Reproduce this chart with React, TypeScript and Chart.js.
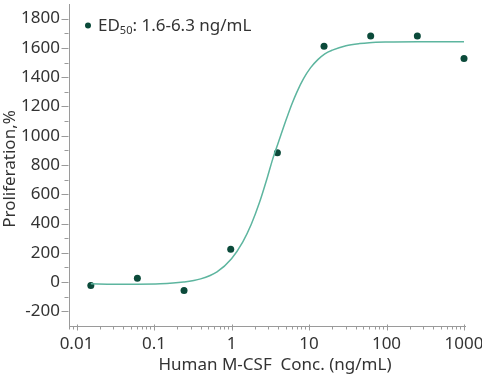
import React, { useEffect, useRef } from "react";
import { Chart, registerables } from "chart.js";

Chart.register(...registerables);

// Measured data (4-fold dilution series)
const concentrations = [1000, 250, 62.5, 15.63, 3.91, 0.977, 0.244, 0.061, 0.0153];
const proliferation = [1528, 1681, 1681, 1611, 883, 224, -57, 26, -24];

// Fitted curve
const curveX = [0.0153, 0.03, 0.06, 0.12, 0.24, 0.4, 0.65, 1.0, 1.4, 1.8, 2.3, 2.9, 3.4, 4, 5, 6, 7, 8.5, 10.5, 13, 16, 20, 30, 45, 60, 100, 250, 1000];
const curveY = [-12, -14, -14, -12, 0, 22, 70, 160, 275, 395, 545, 715, 840, 950, 1100, 1215, 1300, 1390, 1465, 1520, 1560, 1585, 1615, 1630, 1636, 1640, 1642, 1642];

const xTickValues = [0.01, 0.1, 1, 10, 100, 1000];
const xTickLabels = ["0.01", "0.1", "1", "10", "100", "1000"];
const yTickValues = [-200, 0, 200, 400, 600, 800, 1000, 1200, 1400, 1600, 1800];

const legendMain = "ED";
const legendSub = "50";
const legendRest = ": 1.6-6.3 ng/mL";
const xTitle = "Human M-CSF  Conc. (ng/mL)";
const yTitle = "Proliferation,%";

const FONT = "'Noto Sans', sans-serif";
const TEXT = "#333333";
const AXIS = "#9a9a9a";
const POINT = "#0b4a3a";
const CURVE = "#5db59f";

const tickPlugin = {
  id: "customTicks",
  afterDraw(chart: any) {
    const ctx = chart.ctx;
    const xs = chart.scales.x;
    const ys = chart.scales.y;
    ctx.save();
    ctx.strokeStyle = AXIS;
    ctx.lineWidth = 1;
    ctx.beginPath();
    const ax = Math.round(ys.right) - 0.5;
    for (let v = -200; v <= 1800; v += 100) {
      const py = Math.round(ys.getPixelForValue(v)) + 0.5;
      const len = v % 200 === 0 ? 7 : 4;
      ctx.moveTo(ax - len, py);
      ctx.lineTo(ax, py);
    }
    const ay = Math.round(xs.top) + 0.5;
    for (let e = -3; e <= 3; e++) {
      for (let m = 1; m <= 9; m++) {
        const v = m * Math.pow(10, e);
        if (v < xs.min || v > xs.max) continue;
        const px = Math.round(xs.getPixelForValue(v)) + 0.5;
        if (m === 1) {
          ctx.moveTo(px, ay - 2);
          ctx.lineTo(px, ay + 4);
        } else {
          ctx.moveTo(px, ay);
          ctx.lineTo(px, ay + 3);
        }
      }
    }
    ctx.stroke();

    // axis titles
    ctx.fillStyle = TEXT;
    ctx.font = `17px ${FONT}`;
    ctx.textAlign = "center";
    ctx.textBaseline = "middle";
    ctx.fillText(xTitle, (xs.left + xs.right) / 2 + 8, 365);
    ctx.save();
    ctx.translate(10, (ys.top + ys.bottom) / 2 + 4);
    ctx.rotate(-Math.PI / 2);
    ctx.fillText(yTitle, 0, 0);
    ctx.restore();

    // legend
    ctx.fillStyle = POINT;
    ctx.beginPath();
    ctx.arc(88, 25.5, 3, 0, Math.PI * 2);
    ctx.fill();
    ctx.fillStyle = TEXT;
    ctx.textBaseline = "alphabetic";
    ctx.textAlign = "left";
    let x = 98;
    const base = 31;
    ctx.font = `17px ${FONT}`;
    ctx.fillText(legendMain, x, base);
    x += ctx.measureText(legendMain).width;
    ctx.font = `11px ${FONT}`;
    ctx.fillText(legendSub, x, base + 3);
    x += ctx.measureText(legendSub).width;
    ctx.font = `17px ${FONT}`;
    ctx.fillText(legendRest, x, base);
    ctx.restore();
  },
};

export default function App() {
  const ref = useRef<HTMLCanvasElement>(null);
  useEffect(() => {
    if (!ref.current) return;
    const chart = new Chart(ref.current, {
      type: "scatter",
      data: {
        datasets: [
          {
            type: "line",
            data: curveX.map((x, i) => ({ x, y: curveY[i] })),
            borderColor: CURVE,
            borderWidth: 1.5,
            pointRadius: 0,
            cubicInterpolationMode: "monotone",
            fill: false,
          } as any,
          {
            data: concentrations.map((x, i) => ({ x, y: proliferation[i] })),
            backgroundColor: POINT,
            borderColor: POINT,
            pointRadius: 3.5,
            borderWidth: 0,
          },
        ],
      },
      options: {
        animation: false,
        responsive: false,
        clip: false as any,
        layout: { padding: { left: 0, right: 17, top: 0, bottom: 0 } },
        plugins: { legend: { display: false }, tooltip: { enabled: false } },
        scales: {
          x: {
            type: "logarithmic",
            min: 0.008,
            max: 1030,
            grid: { display: false, drawTicks: false },
            border: { display: true, color: AXIS, width: 1 },
            afterBuildTicks: (s: any) => {
              s.ticks = xTickValues.map((v) => ({ value: v, major: true }));
            },
            afterFit: (s: any) => {
              s.height = 50;
              s.paddingLeft = 0;
              s.paddingRight = 0;
            },
            ticks: {
              autoSkip: false,
              maxRotation: 0,
              padding: 8,
              color: TEXT,
              font: { family: FONT, size: 17 },
              callback: (v: any) => {
                const i = xTickValues.findIndex((t) => Math.abs(t - v) / t < 1e-6);
                return i >= 0 ? xTickLabels[i] : "";
              },
            },
            title: { display: false },
          },
          y: {
            type: "linear",
            min: -300,
            max: 1900,
            grid: { display: false, drawTicks: false },
            border: { display: true, color: AXIS, width: 1 },
            afterBuildTicks: (s: any) => {
              s.ticks = yTickValues.map((v) => ({ value: v }));
            },
            afterFit: (s: any) => {
              s.width = 69;
              s.paddingTop = 0;
              s.paddingBottom = 0;
            },
            ticks: {
              padding: 9,
              color: TEXT,
              font: { family: FONT, size: 17 },
              callback: (v: any) => String(v),
            },
            title: { display: false },
          },
        },
      },
      plugins: [tickPlugin],
    });
    return () => chart.destroy();
  }, []);
  return (
    <div style={{ position: "fixed", left: 0, top: 0, width: 482, height: 376 }}>
      <canvas ref={ref} width={482} height={376} style={{ width: 482, height: 376 }} />
    </div>
  );
}
